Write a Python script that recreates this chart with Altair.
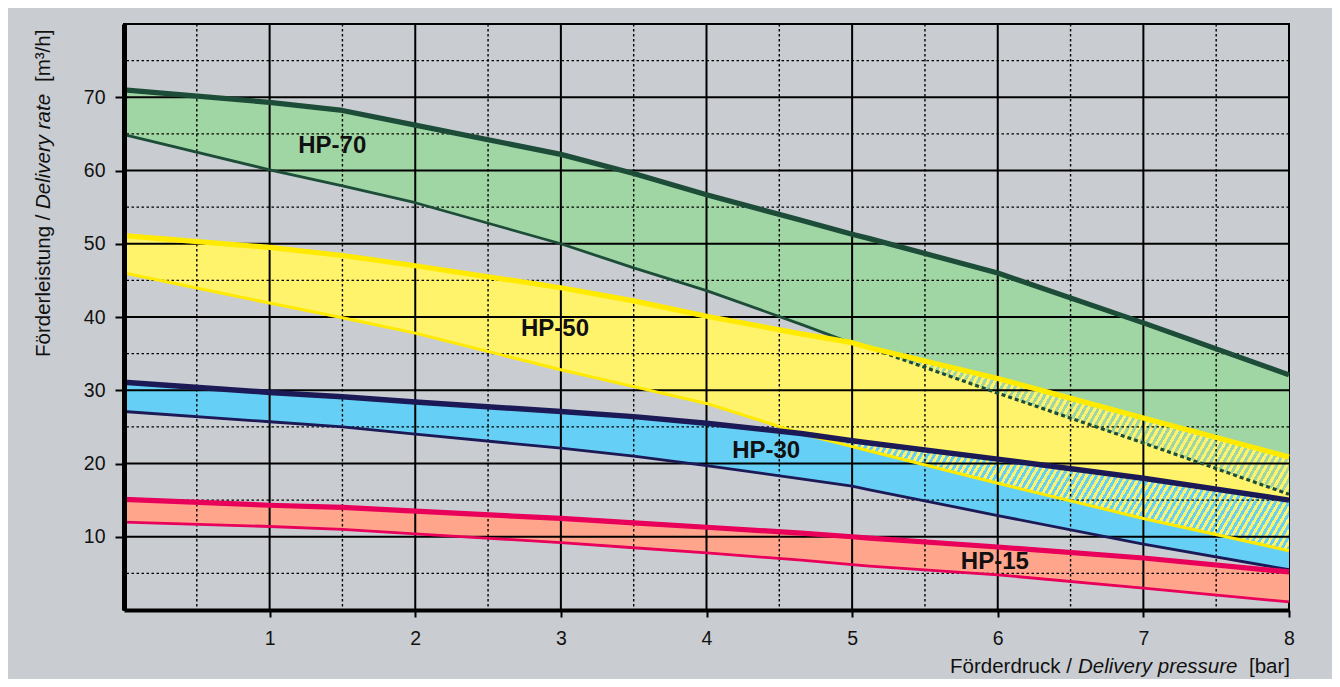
import altair as alt
import pandas as pd

# ---------------- data ----------------
X = [0, 1, 1.5, 2, 3, 3.5, 4, 4.65, 5, 5.12, 6, 7, 8]
HP70_UP = [71.0, 69.3, 68.2, 66.2, 62.2, 59.6, 56.7, 53.2, 51.3, 50.7, 46.0, 39.2, 32.1]
HP70_LO = [64.9, 60.1, 57.9, 55.6, 50.0, 46.7, 43.6, 39.0, 36.4, 35.8, 29.6, 22.8, 15.8]
HP50_UP = [51.1, 49.5, 48.4, 47.0, 44.0, 42.2, 40.1, 37.7, 36.5, 35.8, 31.6, 26.2, 20.9]
HP50_LO = [46.0, 41.9, 39.9, 37.8, 32.8, 30.5, 28.2, 24.1, 22.3, 21.7, 17.3, 12.5, 8.1]
HP30_UP = [31.1, 29.7, 29.1, 28.4, 27.1, 26.4, 25.5, 24.1, 23.1, 22.8, 20.6, 18.0, 15.0]
HP30_LO = [27.1, 25.7, 25.0, 24.0, 22.1, 21.0, 19.7, 17.9, 16.9, 16.4, 12.9, 9.0, 5.5]
HP15_UP = [15.1, 14.3, 14.0, 13.5, 12.5, 11.9, 11.3, 10.5, 10.0, 9.8, 8.6, 7.1, 5.2]
HP15_LO = [12.0, 11.4, 11.0, 10.4, 9.2, 8.5, 7.8, 6.8, 6.2, 6.0, 4.8, 3.0, 1.1]

CROSS_70_50 = 5.12   # where HP-70 lower meets HP-50 upper
CROSS_50_30 = 4.65   # where HP-50 lower meets HP-30 upper

LABELS = ["HP-70", "HP-50", "HP-30", "HP-15"]
LABEL_X = [1.43, 2.96, 4.41, 5.98]
LABEL_Y = [63.3, 38.3, 21.7, 6.6]

X_TICKS = [1, 2, 3, 4, 5, 6, 7, 8]
Y_TICKS = [10, 20, 30, 40, 50, 60, 70]
X_MAJOR = [1, 2, 3, 4, 5, 6, 7]
X_MINOR = [0.5, 1.5, 2.5, 3.5, 4.5, 5.5, 6.5, 7.5]
Y_MAJOR = [10, 20, 30, 40, 50, 60, 70]
Y_MINOR = [5, 15, 25, 35, 45, 55, 65, 75]

# ---------------- styling ----------------
FONT = "Liberation Sans"
BG = "#c9cdd1"
GREEN_F, GREEN_L = "#a0d6a4", "#1d4d38"
YELLOW_F, YELLOW_L = "#fff36b", "#ffea00"
BLUE_F, NAVY_L = "#66cff5", "#1c1957"
SALMON_F, RED_L = "#ffa58c", "#e8005a"

df = pd.DataFrame({
    "x": X, "h70u": HP70_UP, "h70l": HP70_LO, "h50u": HP50_UP, "h50l": HP50_LO,
    "h30u": HP30_UP, "h30l": HP30_LO, "h15u": HP15_UP, "h15l": HP15_LO,
})

xs = alt.Scale(domain=[0, 8], nice=False, zero=False)
ys = alt.Scale(domain=[0, 80], nice=False, zero=False)

x_axis = alt.Axis(values=X_TICKS, title=None, grid=False, domainColor="black", domainWidth=4,
                  tickColor="black", tickWidth=2, tickSize=7, labelFont=FONT, labelFontSize=19.5,
                  labelColor="#111", labelPadding=12, labelFlush=False, zindex=1, format="d")
y_axis = alt.Axis(values=Y_TICKS, title=None, grid=False, domainColor="black", domainWidth=5,
                  tickColor="black", tickWidth=2, tickSize=9, labelFont=FONT, labelFontSize=19.5,
                  labelColor="#111", labelPadding=10, zindex=1, format="d")


def X_(field="x"):
    return alt.X(f"{field}:Q", scale=xs, axis=x_axis)


def Y_(field):
    return alt.Y(f"{field}:Q", scale=ys, axis=y_axis)


def stripes(c1, c2, n, k):
    # diagonal stripes: gradient vector scaled so the bbox corner (1,1) maps to t = 1
    dx = (1 + k) / (1 + k * k)
    dy = k * dx
    stops = []
    for i in range(n):
        a, m, b = i / n, (i + 0.5) / n, (i + 1) / n
        stops += [alt.GradientStop(offset=a, color=c1), alt.GradientStop(offset=m, color=c1),
                  alt.GradientStop(offset=m, color=c2), alt.GradientStop(offset=b, color=c2)]
    return alt.Gradient(gradient="linear", stops=stops, x1=0, y1=0, x2=dx, y2=dy)


base = alt.Chart(df)


def band(lo, hi, color):
    return base.mark_area(color=color, opacity=1).encode(x=X_(), y=Y_(lo), y2=alt.Y2(f"{hi}:Q"))


def curve(field, color, width, flt=None, dash=None):
    c = base
    if flt:
        c = c.transform_filter(flt)
    kw = dict(color=color, strokeWidth=width, strokeCap="butt", strokeJoin="round")
    if dash:
        kw["strokeDash"] = dash
    return c.mark_line(**kw).encode(x=X_(), y=Y_(field))


fills = [
    band("h70l", "h70u", GREEN_F),
    band("h50l", "h50u", YELLOW_F),
    band("h30l", "h30u", BLUE_F),
    band("h15l", "h15u", SALMON_F),
]

hatch1 = base.transform_filter(f"datum.x >= {CROSS_70_50}").mark_area(
    color=stripes(YELLOW_F, GREEN_F, 74, 0.2), opacity=1
).encode(x=X_(), y=Y_("h70l"), y2=alt.Y2("h50u:Q"))
hatch2 = base.transform_filter(f"datum.x >= {CROSS_50_30}").mark_area(
    color=stripes(YELLOW_F, BLUE_F, 83, 0.14), opacity=1
).encode(x=X_(), y=Y_("h50l"), y2=alt.Y2("h30u:Q"))


def vrules(vals, dash=None, width=2):
    kw = dict(color="black", strokeWidth=width)
    if dash:
        kw["strokeDash"] = dash
    return alt.Chart(pd.DataFrame({"v": vals})).mark_rule(**kw).encode(x=X_("v"))


def hrules(vals, dash=None, width=2):
    kw = dict(color="black", strokeWidth=width)
    if dash:
        kw["strokeDash"] = dash
    return alt.Chart(pd.DataFrame({"v": vals})).mark_rule(**kw).encode(y=Y_("v"))


grid = [
    vrules(X_MINOR, dash=[2.5, 2.5], width=1.4),
    hrules(Y_MINOR, dash=[2.5, 2.5], width=1.4),
    vrules(X_MAJOR, width=2),
    hrules(Y_MAJOR, width=2),
]

lines = [
    curve("h70l", GREEN_L, 2.8, flt=f"datum.x <= {CROSS_70_50}"),
    curve("h70l", GREEN_L, 3.2, flt=f"datum.x >= {CROSS_70_50}", dash=[4, 3]),
    curve("h70u", GREEN_L, 5.2),
    curve("h50l", YELLOW_L, 3),
    curve("h50u", YELLOW_L, 5.2),
    curve("h30l", NAVY_L, 2.8),
    curve("h30u", NAVY_L, 5.5),
    curve("h15l", RED_L, 2.8),
    curve("h15u", RED_L, 5.2),
]

labels = alt.Chart(pd.DataFrame({"t": LABELS, "x": LABEL_X, "y": LABEL_Y})).mark_text(
    font=FONT, fontSize=24, fontWeight="bold", color="#111", align="center", baseline="middle"
).encode(x=X_("x"), y=Y_("y"), text="t:N")

one = alt.Data(values=[{"a": 1}])


def title_seg(text, x, y, italic=False, angle=0):
    kw = dict(text=text, font=FONT, fontSize=20.5, color="#111", align="left",
              baseline="alphabetic")
    if italic:
        kw["fontStyle"] = "italic"
    if angle:
        kw["angle"] = angle
    return alt.Chart(one).mark_text(**kw).encode(x=alt.value(x), y=alt.value(y))


titles = [
    title_seg("Förderdruck /", 826, 649),
    title_seg("Delivery pressure", 954, 649, italic=True),
    title_seg("[bar]", 1125, 649),
    title_seg("Förderleistung /", -74, 333, angle=270),
    title_seg("Delivery rate", -74, 185, italic=True, angle=270),
    title_seg("[m³/h]", -74, 58, angle=270),
]

chart = alt.layer(*fills, hatch1, hatch2, *grid, *lines, labels, *titles).properties(
    width=1165, height=586,
    padding={"left": 116, "top": 16, "right": 43, "bottom": 69},
    autosize=alt.AutoSizeParams(type="none"),
    background=BG,
).configure_view(stroke="black", strokeWidth=2, fill=BG)

chart.save("out.html", embed_options={"renderer": "svg", "actions": False})
